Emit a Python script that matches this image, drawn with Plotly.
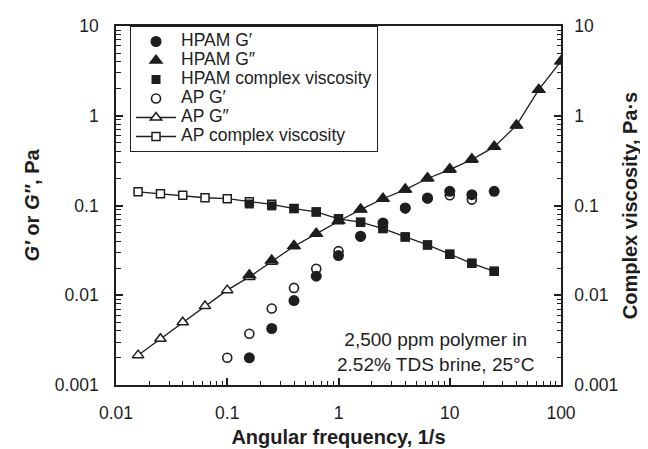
import plotly.graph_objects as go

# ---------------- data ----------------
freq = [0.0158, 0.0251, 0.0398, 0.0631, 0.1, 0.158, 0.251, 0.398, 0.631, 1,
        1.58, 2.51, 3.98, 6.31, 10, 15.8, 25.1, 39.8, 63.1, 100]

# AP G'' : 0.0158 .. 100
ap_g2 = [0.00215, 0.00327, 0.00501, 0.00757, 0.0114, 0.0160, 0.0236, 0.0352,
         0.0483, 0.0668, 0.090, 0.119, 0.150, 0.200, 0.251, 0.324, 0.450,
         0.78, 1.95, 4.05]
# AP complex viscosity : 0.0158 .. 25.1
ap_visc = [0.142, 0.135, 0.130, 0.122, 0.119, 0.110, 0.103, 0.0923, 0.0849,
           0.071, 0.0651, 0.0553, 0.0447, 0.0364, 0.0287, 0.0227, 0.0185]
# AP G' : 0.1 .. 15.8
ap_g1 = [0.00201, 0.00372, 0.00711, 0.01208, 0.0197, 0.031, 0.045, 0.0586,
         0.093, 0.12, 0.130, 0.1164]
# HPAM G'' : 0.158 .. 100
hpam_g2 = [0.0168, 0.0245, 0.0355, 0.0488, 0.0680, 0.091, 0.120, 0.152,
           0.203, 0.255, 0.330, 0.455, 0.785, 1.95, 4.05]
# HPAM complex viscosity : 0.158 .. 25.1
hpam_visc = [0.104, 0.099, 0.0923, 0.0849, 0.071, 0.0651, 0.0553, 0.0447,
             0.0364, 0.0287, 0.0227, 0.0185]
# HPAM G' : 0.158 .. 25.1
hpam_g1 = [0.00201, 0.00426, 0.00873, 0.0163, 0.0277, 0.0455, 0.064, 0.094,
           0.1216, 0.144, 0.132, 0.144]

x_ap_g2 = freq[0:20]
x_ap_visc = freq[0:17]
x_ap_g1 = freq[4:16]
x_hpam_g2 = freq[5:20]
x_hpam_visc = freq[5:17]
x_hpam_g1 = freq[5:17]

x_tickvals = [0.01, 0.1, 1, 10, 100]
x_ticktext = ["0.01", "0.1", "1", "10", "100"]
y_tickvals = [0.001, 0.01, 0.1, 1, 10]
y_ticktext = ["0.001", "0.01", "0.1", "1", "10"]
minor_digits = [2, 3, 4, 5, 6, 7, 8, 9]

names = ["HPAM G′", "HPAM G″", "HPAM complex viscosity",
         "AP G′", "AP G″", "AP complex viscosity"]
note_lines = ["2,500 ppm polymer in", "2.52% TDS brine, 25°C"]

# ---------------- styling ----------------
FONT = "Liberation Sans, Arial, sans-serif"
INK = "#1e1e1e"
LEG_PX = 17.5
X_RANGE = [-2, 2]
Y_RANGE = [-3, 1]


def lname(s):
    return f'<span style="font-size:{LEG_PX}px">{s}</span>'


def minor_vals(decades):
    return [d * m for d in decades[:-1] for m in minor_digits]


fig = go.Figure()

# AP series (drawn first, underneath)
fig.add_trace(go.Scatter(
    x=x_ap_visc, y=ap_visc, yaxis="y2", name=lname(names[5]), legendrank=6,
    mode="lines+markers", line=dict(color=INK, width=1.3),
    marker=dict(symbol="square", size=8, color="white",
                line=dict(color=INK, width=1.5))))
fig.add_trace(go.Scatter(
    x=x_ap_g2, y=ap_g2, name=lname(names[4]), legendrank=5,
    mode="lines+markers", line=dict(color=INK, width=1.3),
    marker=dict(symbol="triangle-up", size=10, color="white",
                line=dict(color=INK, width=1.5))))
fig.add_trace(go.Scatter(
    x=x_ap_g1, y=ap_g1, name=lname(names[3]), legendrank=4,
    mode="markers",
    marker=dict(symbol="circle", size=9, color="white",
                line=dict(color=INK, width=1.6))))

# HPAM series (on top)
fig.add_trace(go.Scatter(
    x=x_hpam_visc, y=hpam_visc, yaxis="y2", name=lname(names[2]), legendrank=3,
    mode="markers",
    marker=dict(symbol="square", size=9, color=INK, line=dict(width=0))))
fig.add_trace(go.Scatter(
    x=x_hpam_g2, y=hpam_g2, name=lname(names[1]), legendrank=2,
    mode="markers",
    marker=dict(symbol="triangle-up", size=13, color=INK, line=dict(width=0))))
fig.add_trace(go.Scatter(
    x=x_hpam_g1, y=hpam_g1, name=lname(names[0]), legendrank=1,
    mode="markers",
    marker=dict(symbol="circle", size=11, color=INK, line=dict(width=0))))

# empty helper traces so the minor-tick overlay axes are created
for xa, ya in (("x2", "y"), ("x", "y3"), ("x", "y4")):
    fig.add_trace(go.Scatter(x=[], y=[], xaxis=xa, yaxis=ya, mode="markers",
                             showlegend=False, hoverinfo="skip"))


def axis_style(tickvals, ticktext):
    return dict(
        type="log", showgrid=False, zeroline=False, automargin=False,
        showline=True, linecolor=INK, linewidth=1.7,
        ticks="inside", ticklen=7, tickwidth=1.5, tickcolor=INK,
        tickfont=dict(family=FONT, size=17.5, color=INK),
        tickmode="array", tickvals=tickvals, ticktext=ticktext,
    )


def minor_axis(decades, rng):
    return dict(
        type="log", range=rng, showgrid=False, zeroline=False,
        automargin=False, showline=False, showticklabels=False,
        ticks="inside", ticklen=4.5, tickwidth=1.2, tickcolor=INK,
        tickmode="array", tickvals=minor_vals(decades), fixedrange=True,
    )


fig.update_layout(
    width=648, height=449,
    margin=dict(l=108, r=95, t=18, b=72),
    paper_bgcolor="white", plot_bgcolor="white",
    font=dict(family=FONT, color=INK),
    showlegend=True,
    legend=dict(
        x=0.0315, y=1.0, xanchor="left", yanchor="top",
        bgcolor="white", bordercolor=INK, borderwidth=1,
        font=dict(family=FONT, size=11.5, color=INK),
        traceorder="normal", itemsizing="trace", itemwidth=40,
    ),
    xaxis=dict(
        **axis_style(x_tickvals, x_ticktext), range=X_RANGE,
        mirror=True, ticklabelstandoff=11,
        title=dict(text="<b>Angular frequency, 1/s</b>",
                   font=dict(family=FONT, size=20, color=INK), standoff=8),
    ),
    yaxis=dict(
        **axis_style(y_tickvals, y_ticktext), range=Y_RANGE,
        ticklabelstandoff=12,
        title=dict(text="<b><i>G′</i> or <i>G″</i>, Pa</b>",
                   font=dict(family=FONT, size=20, color=INK), standoff=10),
    ),
    yaxis2=dict(
        **axis_style(y_tickvals, y_ticktext), range=Y_RANGE,
        overlaying="y", side="right", ticklabelstandoff=8,
        title=dict(text="<b>Complex viscosity, Pa·s</b>",
                   font=dict(family=FONT, size=20, color=INK), standoff=6),
    ),
    xaxis2=dict(**minor_axis(x_tickvals, X_RANGE), overlaying="x",
                anchor="y", side="bottom"),
    yaxis3=dict(**minor_axis(y_tickvals, Y_RANGE), overlaying="y",
                anchor="x", side="left"),
    yaxis4=dict(**minor_axis(y_tickvals, Y_RANGE), overlaying="y",
                anchor="x", side="right"),
    annotations=[dict(
        xref="paper", yref="paper", x=0.719, y=0.092,
        xanchor="center", yanchor="middle", align="center",
        text="<br>".join(note_lines), showarrow=False,
        font=dict(family=FONT, size=19, color=INK),
    )],
)

fig.write_html("out.html")
